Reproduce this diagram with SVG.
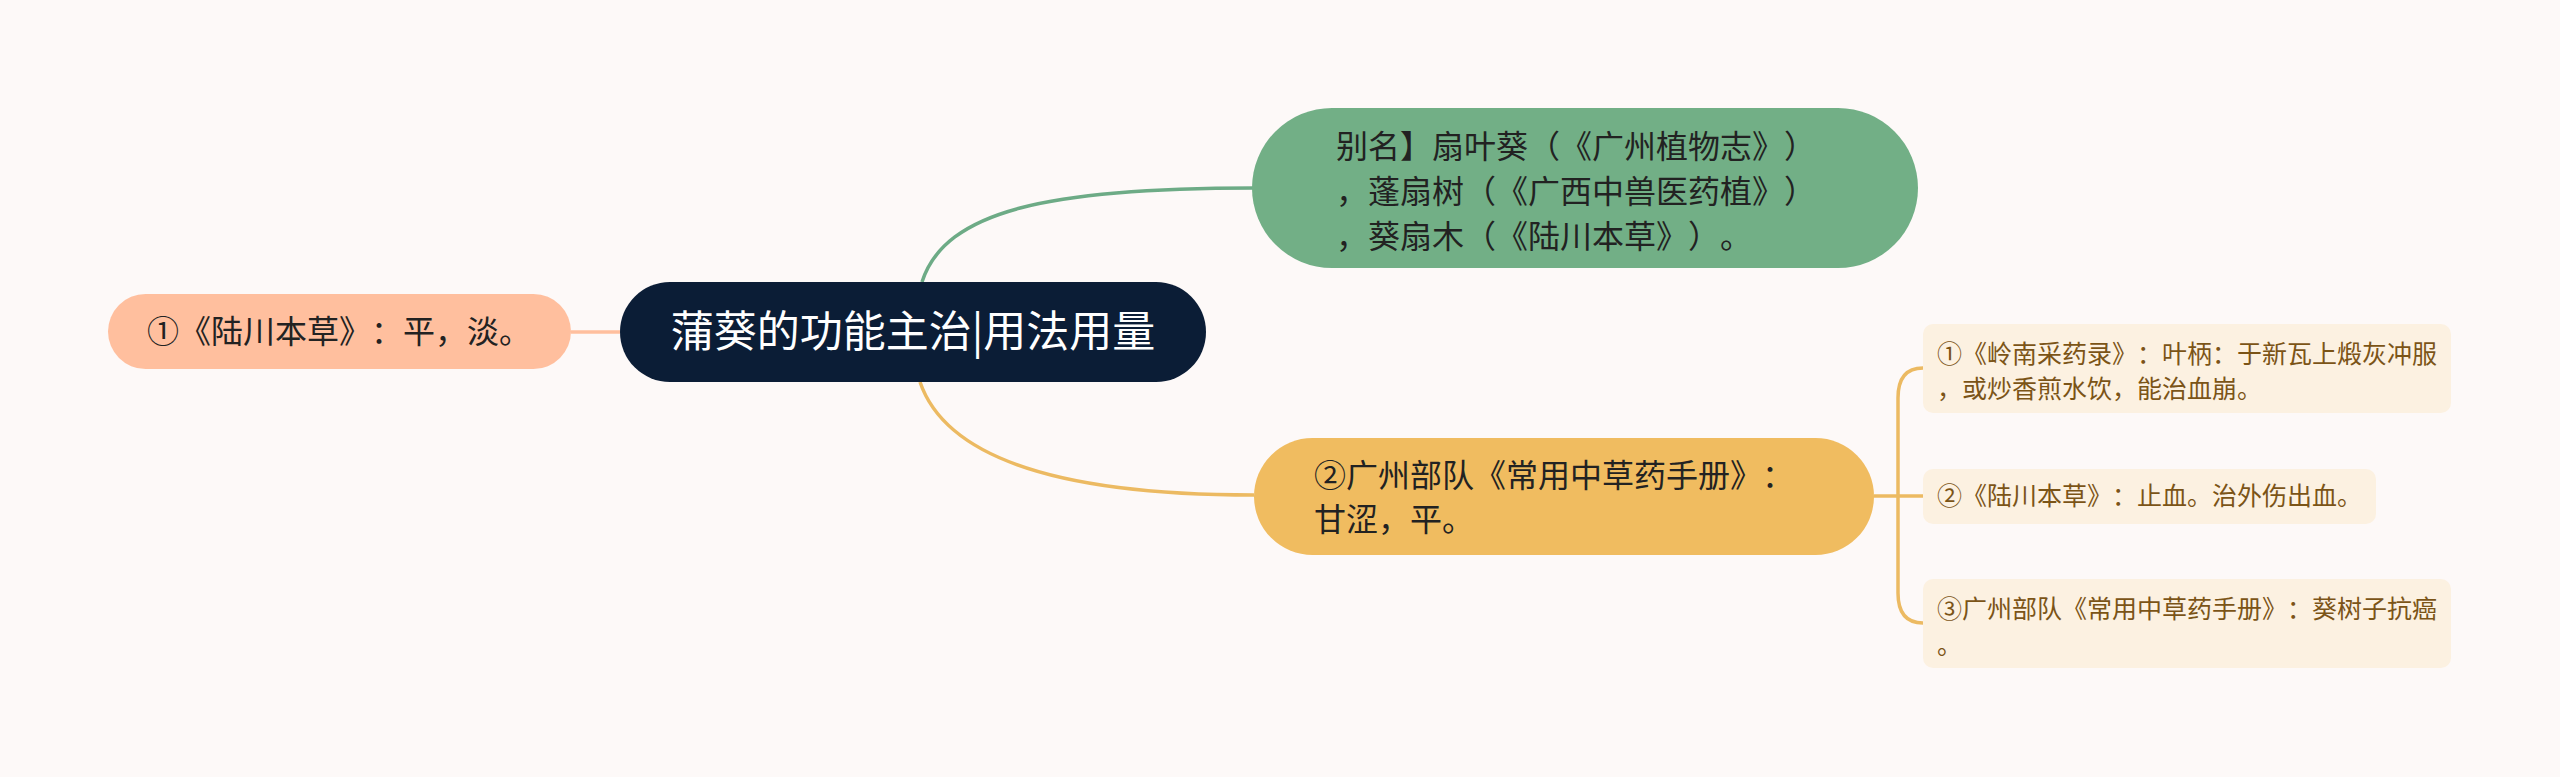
<svg xmlns="http://www.w3.org/2000/svg" width="2560" height="777" viewBox="0 0 2560 777">
<style>
text{font-family:"Noto Sans CJK SC","Noto Sans",sans-serif;text-spacing-trim:space-all;font-feature-settings:"halt" 0,"chws" 0;}
.t1{font-size:32px;fill:#222222;}
.t2{font-size:25px;fill:#7B5417;}
.sub{fill:#FCF1E1;}
</style>
<rect width="2560" height="777" fill="#FDF9F8"/>
<g id="connectors" fill="none" stroke-width="3.5">
<path d="M620 332 H571" stroke="#FFBF9E"/>
<path d="M922 282 C945 210 1050 188 1254 188" stroke="#6DAB86"/>
<path d="M920 382 C945 455 1050 495 1254 495" stroke="#ECBA62"/>
<path d="M1874 496 H1923" stroke="#ECBA62"/>
<path d="M1923 368 Q1898 368 1898 398 V593 Q1898 623 1923 623" stroke="#ECBA62"/>
</g>
<g id="root">
<rect x="620" y="282" width="586" height="100" rx="50" fill="#0B1D36"/>
<text x="913" y="347" text-anchor="middle" font-size="43" fill="#FFFFFF">蒲葵的功能主治|用法用量</text>
</g>
<g id="node-left">
<rect x="108" y="294" width="463" height="75" rx="37.5" fill="#FFBF9E"/>
<text class="t1" x="147" y="343">①《陆川本草》：平，淡。</text>
</g>
<g id="node-green">
<rect x="1252" y="108" width="666" height="160" rx="80" fill="#72AF86"/>
<text class="t1" x="1336" y="158">别名】扇叶葵（《广州植物志》）</text>
<text class="t1" x="1336" y="203">，蓬扇树（《广西中兽医药植》）</text>
<text class="t1" x="1336" y="248">，葵扇木（《陆川本草》）。</text>
</g>
<g id="node-yellow">
<rect x="1254" y="438" width="620" height="117" rx="58.5" fill="#F0BC60"/>
<text class="t1" x="1314" y="487">②广州部队《常用中草药手册》：</text>
<text class="t1" x="1314" y="531">甘涩，平。</text>
</g>
<g id="sub1">
<rect class="sub" x="1923" y="324" width="528" height="89" rx="10"/>
<text class="t2" x="1937" y="363">①《岭南采药录》：叶柄：于新瓦上煅灰冲服</text>
<text class="t2" x="1937" y="398">，或炒香煎水饮，能治血崩。</text>
</g>
<g id="sub2">
<rect class="sub" x="1923" y="469" width="453" height="55" rx="10"/>
<text class="t2" x="1937" y="505">②《陆川本草》：止血。治外伤出血。</text>
</g>
<g id="sub3">
<rect class="sub" x="1923" y="579" width="528" height="89" rx="10"/>
<text class="t2" x="1937" y="618">③广州部队《常用中草药手册》：葵树子抗癌</text>
<text class="t2" x="1937" y="654">。</text>
</g>
</svg>
